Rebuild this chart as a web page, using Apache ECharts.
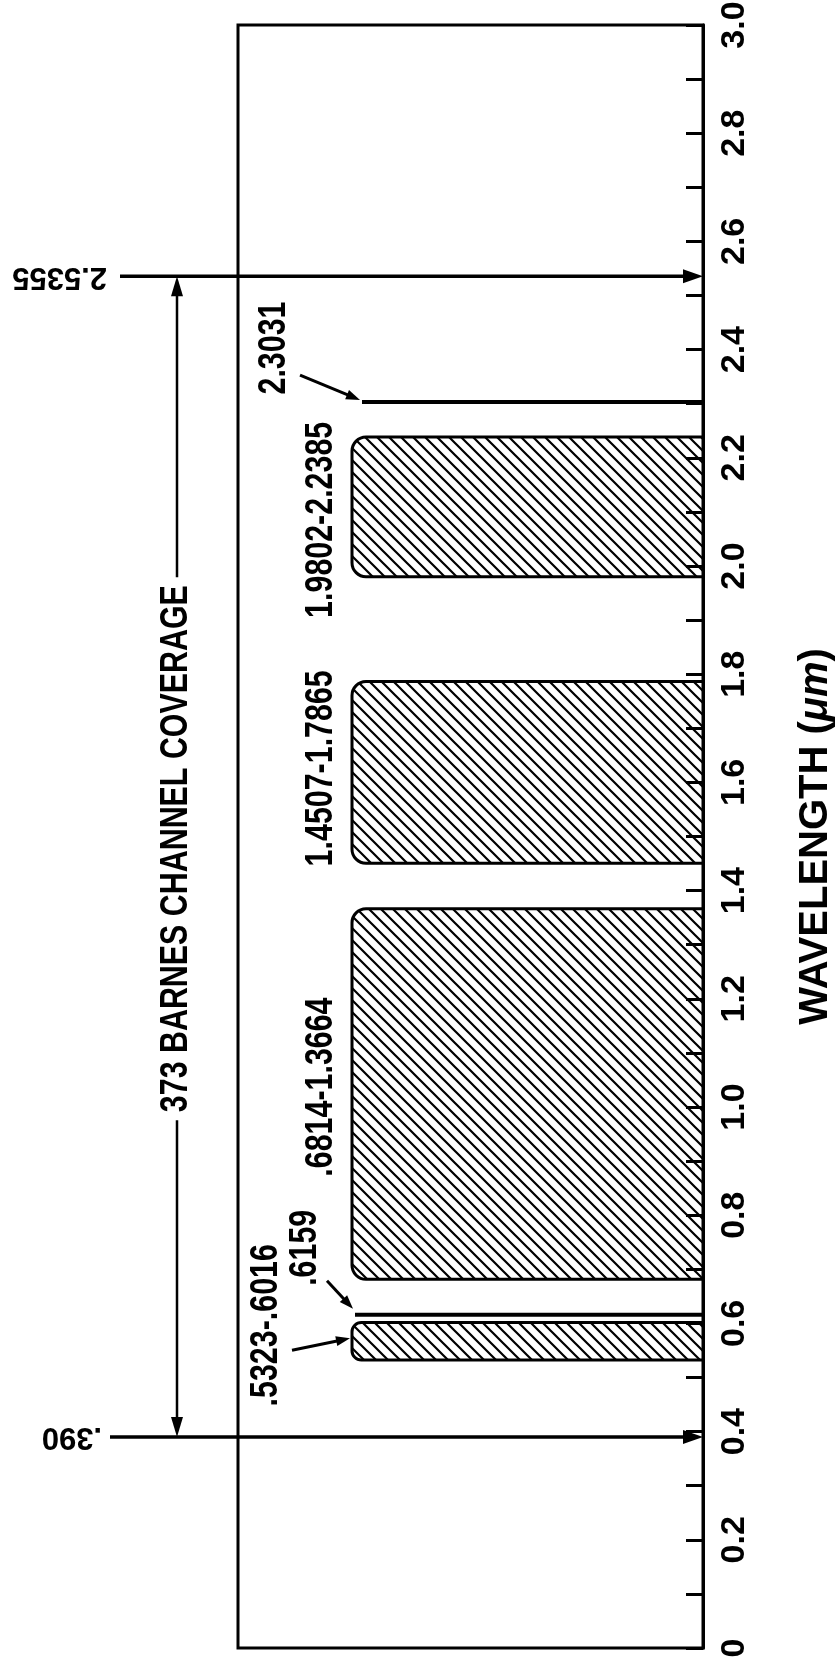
<!DOCTYPE html>
<html>
<head>
<meta charset="utf-8">
<title>Barnes channel coverage</title>
<script src="https://cdn.jsdelivr.net/npm/echarts@6/dist/echarts.min.js"></script>
<style>
  html, body { margin: 0; padding: 0; background: #fff; }
  #chart { width: 836px; height: 1661px; }
</style>
</head>
<body>
<div id="chart"></div>
<script>
// channel bands, wavelength in um
const bandStart = [0.5323, 0.6814, 1.4507, 1.9802];
const bandEnd = [0.6016, 1.3664, 1.7865, 2.2385];
const bandLabels = ['.5323-.6016', '.6814-1.3664', '1.4507-1.7865', '1.9802-2.2385'];
// single channels
const lineValues = [0.6159, 2.3031];
const lineLabels = ['.6159', '2.3031'];
// total coverage
const coverageValues = [0.390, 2.5355];
const coverageLabels = ['.390', '2.5355'];
const coverageTitle = '373 BARNES CHANNEL COVERAGE';
// axis
const tickLabels = ['0', '0.2', '0.4', '0.6', '0.8', '1.0', '1.2', '1.4', '1.6', '1.8', '2.0', '2.2', '2.4', '2.6', '2.8', '3.0'];

// layout (px, measured from the grid's left edge)
const GRID_L = 238, GRID_R = 133;
const W = 836 - GRID_L - GRID_R;
const BAND_X = 114;
const BAND_LABEL = [[29, -16], [84, -7], [84, -4], [84, 13]];
const BAND_ARROW = [[54, 9, 112, -3], null, null, null];
const LINE_X = [117, 124];
const LINE_LABEL = [[68, -67], [37, -54]];
const LINE_ARROW = [[89, -34, 115, -6], [62, -27, 122, -2]];
const COVER_X = [-128, -118];
const COVER_LABEL_X = [-136, -131];
const SPAN_X = -61;
const SPAN_TEXT_DY = -8;

const FONT = "'Liberation Sans', Arial, Helvetica, sans-serif";

// diagonal hatching
const hatch = document.createElement('canvas');
hatch.width = 12; hatch.height = 12;
const hctx = hatch.getContext('2d');
hctx.fillStyle = '#fff';
hctx.fillRect(0, 0, 12, 12);
hctx.strokeStyle = '#000';
hctx.lineWidth = 2.2;
hctx.beginPath();
hctx.moveTo(-3, -3); hctx.lineTo(15, 15);
hctx.moveTo(-3, 9); hctx.lineTo(3, 15);
hctx.moveTo(9, -3); hctx.lineTo(15, 3);
hctx.stroke();

function arrow(x1, y1, x2, y2, w, len, half) {
    const a = Math.atan2(y2 - y1, x2 - x1);
    const bx = x2 - len * Math.cos(a), by = y2 - len * Math.sin(a);
    const nx = -Math.sin(a) * half, ny = Math.cos(a) * half;
    return [
        {type: 'line', shape: {x1: x1, y1: y1, x2: bx + Math.cos(a) * 2, y2: by + Math.sin(a) * 2}, style: {stroke: '#000', lineWidth: w}},
        {type: 'polygon', shape: {points: [[x2, y2], [bx + nx, by + ny], [bx - nx, by - ny]]}, style: {fill: '#000'}}
    ];
}

// upright-reading text turned a quarter turn, squeezed to look condensed
function vText(text, x, y) {
    return {
        type: 'text', x: x, y: y, rotation: Math.PI / 2, scaleX: 0.8,
        style: {text: text, fontSize: 38, fontWeight: 'bold', fontFamily: FONT, fill: '#000', align: 'center', verticalAlign: 'middle'}
    };
}

const chart = echarts.init(document.getElementById('chart'));

const option = {
    backgroundColor: '#fff',
    animation: false,
    grid: {
        left: GRID_L, right: GRID_R, top: 25, bottom: 13,
        outerBoundsMode: 'none', containLabel: false,
        show: true, borderColor: '#000', borderWidth: 3
    },
    xAxis: {type: 'value', min: 0, max: W, show: false},
    yAxis: {
        type: 'value', position: 'right', min: 0, max: 3, interval: 0.2, z: 5,
        axisLine: {show: true, onZero: false, lineStyle: {color: '#000', width: 3}},
        axisTick: {show: true, inside: true, length: 17, lineStyle: {color: '#000', width: 3}},
        minorTick: {show: true, splitNumber: 2, length: 17, lineStyle: {color: '#000', width: 3}},
        splitLine: {show: false},
        axisLabel: {
            rotate: 90, margin: 15, color: '#000', fontSize: 34, fontWeight: 'bold', fontFamily: FONT,
            showMinLabel: true, showMaxLabel: true,
            formatter: function (v) { return tickLabels[Math.round(v / 0.2)]; }
        },
        name: 'WAVELENGTH ({it|μm})',
        nameLocation: 'middle', nameRotate: 90, nameGap: 93,
        nameTextStyle: {
            color: '#000', fontSize: 40, fontWeight: 'bold', fontFamily: FONT,
            rich: {it: {color: '#000', fontSize: 40, fontWeight: 'bold', fontFamily: FONT, fontStyle: 'italic'}}
        }
    },
    series: [
        {
            // hatched bands
            type: 'custom',
            data: bandStart.map(function (s, i) { return [s, bandEnd[i]]; }),
            renderItem: function (params, api) {
                const i = params.dataIndex;
                const tl = api.coord([BAND_X, api.value(1)]);
                const br = api.coord([W, api.value(0)]);
                const h = br[1] - tl[1];
                const r = Math.min(14, h / 4);
                const mid = (tl[1] + br[1]) / 2;
                const x0 = api.coord([0, 0])[0];
                const kids = [{
                    type: 'rect',
                    shape: {x: tl[0], y: tl[1], width: br[0] - tl[0], height: h, r: [r, 0, 0, r]},
                    style: {fill: {image: hatch, repeat: 'repeat'}, stroke: '#000', lineWidth: 3}
                }];
                kids.push(vText(bandLabels[i], x0 + BAND_LABEL[i][0], mid + BAND_LABEL[i][1]));
                const a = BAND_ARROW[i];
                if (a) kids.push.apply(kids, arrow(x0 + a[0], mid + a[1], x0 + a[2], mid + a[3], 3, 14, 5));
                return {type: 'group', children: kids};
            },
            z: 2
        },
        {
            // single channel lines
            type: 'custom',
            data: lineValues.map(function (v) { return [0, v]; }),
            renderItem: function (params, api) {
                const i = params.dataIndex;
                const p = api.coord([LINE_X[i], api.value(1)]);
                const q = api.coord([W, api.value(1)]);
                const x0 = api.coord([0, 0])[0];
                const a = LINE_ARROW[i];
                const kids = [
                    {type: 'line', shape: {x1: p[0], y1: p[1], x2: q[0], y2: q[1]}, style: {stroke: '#000', lineWidth: 4}},
                    vText(lineLabels[i], x0 + LINE_LABEL[i][0], p[1] + LINE_LABEL[i][1])
                ].concat(arrow(x0 + a[0], p[1] + a[1], x0 + a[2], p[1] + a[3], 3, 14, 5));
                return {type: 'group', children: kids};
            },
            z: 2
        },
        {
            // coverage limits
            type: 'custom',
            clip: false,
            data: coverageValues.map(function (v) { return [0, v]; }),
            renderItem: function (params, api) {
                const i = params.dataIndex;
                const p = api.coord([COVER_X[i], api.value(1)]);
                const q = api.coord([W, api.value(1)]);
                const lx = api.coord([COVER_LABEL_X[i], 0])[0];
                const kids = arrow(p[0], p[1], q[0], q[1], 3.5, 20, 7);
                kids.push({
                    type: 'text', x: lx, y: p[1], rotation: Math.PI,
                    style: {text: coverageLabels[i], fontSize: 31, fontWeight: 'bold', fontFamily: FONT, fill: '#000', align: 'left', verticalAlign: 'middle'}
                });
                return {type: 'group', children: kids};
            },
            z: 3
        },
        {
            // coverage span with title
            type: 'custom',
            clip: false,
            data: [[0, coverageValues[0], coverageValues[1]]],
            renderItem: function (params, api) {
                const lo = api.coord([SPAN_X, api.value(1)]);
                const hi = api.coord([SPAN_X, api.value(2)]);
                const mid = (lo[1] + hi[1]) / 2 + SPAN_TEXT_DY;
                const kids = arrow(lo[0], mid, lo[0], hi[1], 2.5, 20, 6)
                    .concat(arrow(lo[0], mid, lo[0], lo[1], 2.5, 20, 6));
                const t = vText(coverageTitle, lo[0], mid);
                t.style.backgroundColor = '#fff';
                t.style.padding = [0, 10];
                kids.push(t);
                return {type: 'group', children: kids};
            },
            z: 3
        }
    ]
};

chart.setOption(option);
</script>
</body>
</html>
